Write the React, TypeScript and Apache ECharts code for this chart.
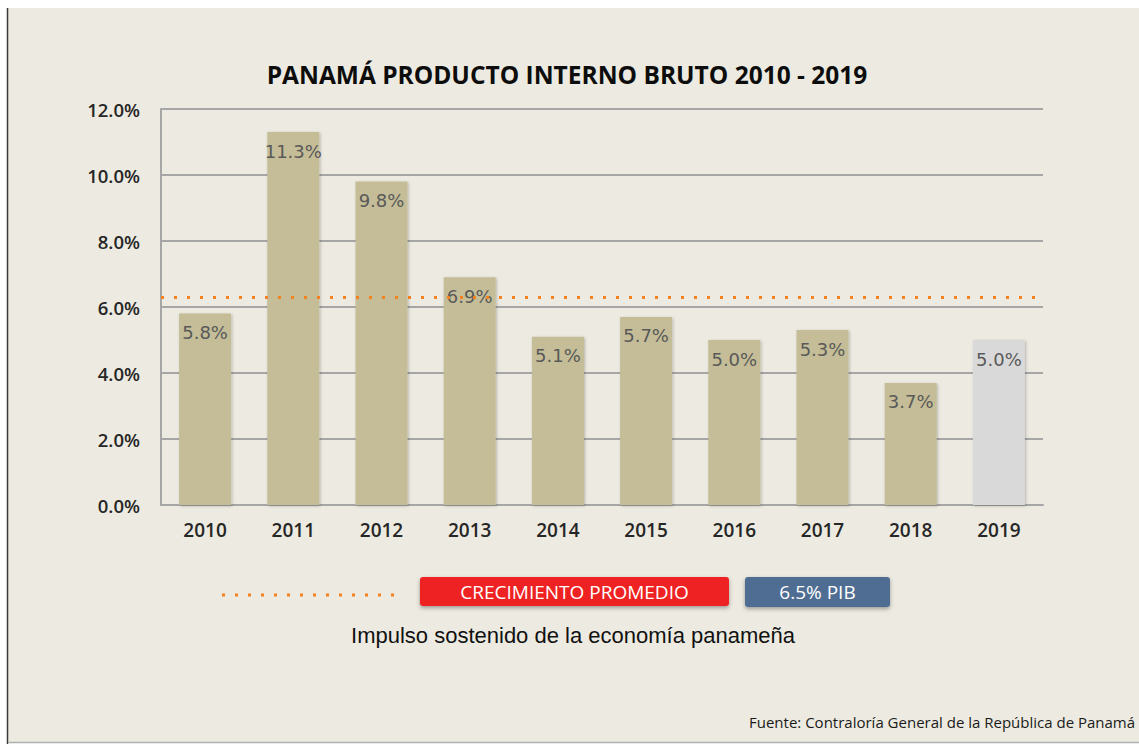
import React, { useEffect, useRef } from "react";
import * as echarts from "echarts";

const years = ["2010", "2011", "2012", "2013", "2014", "2015", "2016", "2017", "2018", "2019"];
const growth = [5.8, 11.3, 9.8, 6.9, 5.1, 5.7, 5.0, 5.3, 3.7, 5.0];
const averageGrowth = 6.3;
const title = "PANAMÁ PRODUCTO INTERNO BRUTO 2010 - 2019";
const legendRed = "CRECIMIENTO PROMEDIO";
const legendBlue = "6.5% PIB";
const subtitle = "Impulso sostenido de la economía panameña";
const source = "Fuente: Contraloría General de la República de Panamá";

export default function App() {
  const ref = useRef<HTMLDivElement>(null);
  useEffect(() => {
    const chart = echarts.init(ref.current!, null, { renderer: "svg" });
    const option: any = {
      animation: false,
      backgroundColor: "#ffffff",
      grid: { left: 161, right: 96, top: 109, bottom: 239 },
      xAxis: {
        type: "category",
        data: years,
        axisLine: { lineStyle: { color: "#a6a6a6", width: 2 } },
        axisTick: { show: false },
        axisLabel: {
          color: "#262626",
          fontFamily: "Open Sans",
          fontWeight: 600,
          fontSize: 19,
          margin: 15,
        },
      },
      yAxis: {
        type: "value",
        min: 0,
        max: 12,
        interval: 2,
        axisLine: { show: true, lineStyle: { color: "#a6a6a6", width: 2 } },
        axisTick: { show: false },
        splitLine: { lineStyle: { color: "#a6a6a6", width: 2 } },
        axisLabel: {
          color: "#262626",
          fontFamily: "Open Sans",
          fontWeight: 600,
          fontSize: 18.5,
          margin: 21,
          formatter: (v: number) => v.toFixed(1) + "%",
        },
      },
      graphic: [
        { type: "rect", silent: true, z: -10, shape: { x: 8, y: 8, width: 1131, height: 734 }, style: { fill: "#edebe1" } },
        { type: "line", silent: true, z: -9, shape: { x1: 7.5, y1: 8, x2: 7.5, y2: 744 }, style: { stroke: "#3a3a3a", lineWidth: 1.5 } },
        { type: "line", silent: true, z: -9, shape: { x1: 8, y1: 742.5, x2: 1139, y2: 742.5 }, style: { stroke: "#b0b0b0", lineWidth: 1.5 } },
        {
          type: "text",
          x: 567,
          y: 74,
          style: {
            text: title,
            fill: "#0d0d0d",
            font: "bold 24.5px 'Open Sans'",
            textAlign: "center",
            textVerticalAlign: "middle",
          },
        },
        {
          type: "line",
          shape: { x1: 222, y1: 595, x2: 394, y2: 595 },
          style: { stroke: "#f5821f", lineWidth: 3, lineDash: [3, 10], lineCap: "butt" },
        },
        {
          type: "rect",
          shape: { x: 420, y: 577, width: 309, height: 29, r: 3 },
          style: { fill: "#ee2024", shadowBlur: 4, shadowColor: "rgba(0,0,0,0.35)", shadowOffsetY: 2 },
        },
        {
          type: "text",
          x: 574.5,
          y: 592,
          style: { text: legendRed, fill: "#ffffff", font: "19px 'Open Sans'", textAlign: "center", textVerticalAlign: "middle" },
        },
        {
          type: "rect",
          shape: { x: 745, y: 577, width: 145, height: 30, r: 3 },
          style: { fill: "#506d93", shadowBlur: 4, shadowColor: "rgba(0,0,0,0.35)", shadowOffsetY: 2 },
        },
        {
          type: "text",
          x: 817.5,
          y: 592,
          style: { text: legendBlue, fill: "#ffffff", font: "19px 'Open Sans'", textAlign: "center", textVerticalAlign: "middle" },
        },
        {
          type: "text",
          x: 573,
          y: 635,
          style: { text: subtitle, fill: "#111111", font: "22px 'Liberation Sans'", textAlign: "center", textVerticalAlign: "middle" },
        },
        {
          type: "text",
          x: 749,
          y: 722,
          style: { text: source, fill: "#1a1a1a", font: "15px 'Open Sans'", textAlign: "left", textVerticalAlign: "middle" },
        },
      ],
      series: [
        {
          type: "bar",
          barWidth: 52,
          data: growth.map((v, i) => ({
            value: v,
            itemStyle: { color: i === growth.length - 1 ? "#d9d9d9" : "#c4bd97" },
          })),
          itemStyle: { shadowBlur: 3, shadowColor: "rgba(0,0,0,0.25)", shadowOffsetX: 1, shadowOffsetY: 1 },
          label: {
            show: true,
            position: "insideTop",
            distance: 10,
            color: "#595959",
            fontFamily: "DejaVu Sans",
            fontSize: 18,
            formatter: (p: any) => p.value.toFixed(1) + "%",
          },
          markLine: {
            silent: true,
            symbol: "none",
            label: { show: false },
            lineStyle: { color: "#f5821f", width: 3, type: [3, 10], cap: "butt" },
            data: [{ yAxis: averageGrowth }],
          },
        },
      ],
    };
    chart.setOption(option);
    return () => chart.dispose();
  }, []);
  return (
    <div
      ref={ref}
      style={{ position: "fixed", left: 0, top: 0, width: 1139, height: 744 }}
    />
  );
}
